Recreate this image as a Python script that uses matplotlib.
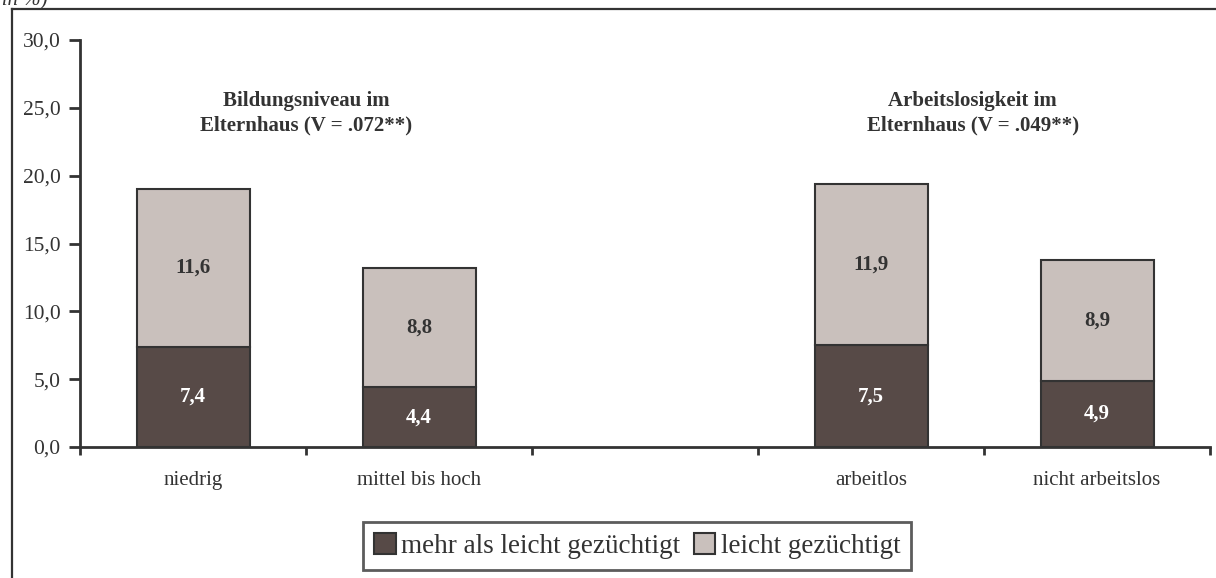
import numpy as np
import matplotlib
matplotlib.use('Agg')
import matplotlib.pyplot as plt
from matplotlib.lines import Line2D
from matplotlib.ticker import FuncFormatter, FixedLocator

plt.rcParams['font.family'] = ['Liberation Serif', 'DejaVu Serif']

categories = ['niedrig', 'mittel bis hoch', '', 'arbeitlos', 'nicht arbeitslos']
mehr_als_leicht = [7.4, 4.4, np.nan, 7.5, 4.9]
leicht = [11.6, 8.8, np.nan, 11.9, 8.9]
series_names = ['mehr als leicht gezüchtigt', 'leicht gezüchtigt']
group_titles = ['Bildungsniveau im\nElternhaus (V = .072**)',
                'Arbeitslosigkeit im\nElternhaus (V = .049**)']
group_title_x = [0.5, 3.45]

dark = '#574a47'
light = '#c9c0bc'
ink = '#333333'

fig = plt.figure(figsize=(12.16, 5.78), dpi=100)
ax = fig.add_axes([80 / 1216, 1 - 447 / 578, 1130 / 1216, 407 / 578])

x = np.arange(len(categories))
b1 = ax.bar(x, mehr_als_leicht, width=0.5, color=dark, edgecolor=ink,
            linewidth=1.5, label=series_names[0])
b2 = ax.bar(x, leicht, width=0.5, bottom=mehr_als_leicht, color=light,
            edgecolor=ink, linewidth=1.5, label=series_names[1])

for i in range(len(categories)):
    if np.isnan(mehr_als_leicht[i]):
        continue
    lo, hi = mehr_als_leicht[i], leicht[i]
    ax.text(x[i], lo / 2, f'{lo:.1f}'.replace('.', ','), ha='center',
            va='center', color='white', fontsize=15, fontweight='bold')
    ax.text(x[i], lo + hi / 2, f'{hi:.1f}'.replace('.', ','), ha='center',
            va='center', color=ink, fontsize=15, fontweight='bold')

for t, gx in zip(group_titles, group_title_x):
    ax.text(gx, 24.6, t, ha='center', va='center', color=ink, fontsize=15,
            fontweight='bold', linespacing=1.35)

ax.set_xlim(-0.5, len(categories) - 0.5)
ax.set_ylim(0, 30)
ax.set_yticks(np.arange(0, 31, 5))
ax.yaxis.set_major_formatter(FuncFormatter(lambda v, p: f'{v:.1f}'.replace('.', ',')))
ax.set_xticks(x)
ax.set_xticklabels(categories)
ax.xaxis.set_minor_locator(FixedLocator(np.arange(-0.5, len(categories), 1)))
ax.tick_params(axis='x', which='major', length=0, pad=17, labelsize=15,
               labelcolor=ink)
ax.tick_params(axis='x', which='minor', length=6, width=2, color=ink,
               direction='out')
ax.tick_params(axis='y', length=8, width=2, color=ink, pad=6, labelsize=15.5,
               labelcolor=ink)
for s in ['top', 'right']:
    ax.spines[s].set_visible(False)
for s in ['left', 'bottom']:
    ax.spines[s].set_linewidth(2)
    ax.spines[s].set_color(ink)

leg = fig.legend(handles=[b1, b2], loc='center', bbox_to_anchor=(0.524, 1 - 546 / 578),
                 ncol=2, fontsize=19.5, frameon=True, fancybox=False,
                 handlelength=0.8, handleheight=0.8, handletextpad=0.2,
                 columnspacing=0.5, borderpad=0.4, borderaxespad=0,
                 labelcolor=ink)
leg.get_frame().set_edgecolor(ink)
leg.get_frame().set_linewidth(2)

# outer frame (left and top edge visible)
fig.add_artist(Line2D([12 / 1216, 12 / 1216], [0, 1 - 9 / 578], color=ink,
                      linewidth=1.6, transform=fig.transFigure))
fig.add_artist(Line2D([12 / 1216, 1], [1 - 9 / 578, 1 - 9 / 578], color=ink,
                      linewidth=1.6, transform=fig.transFigure))
fig.text(48 / 1216, 1 - 5 / 578, '(Angaben in %)', ha='right', va='baseline',
         fontsize=15, style='italic', color=ink)

fig.savefig('out.png', dpi=100)
